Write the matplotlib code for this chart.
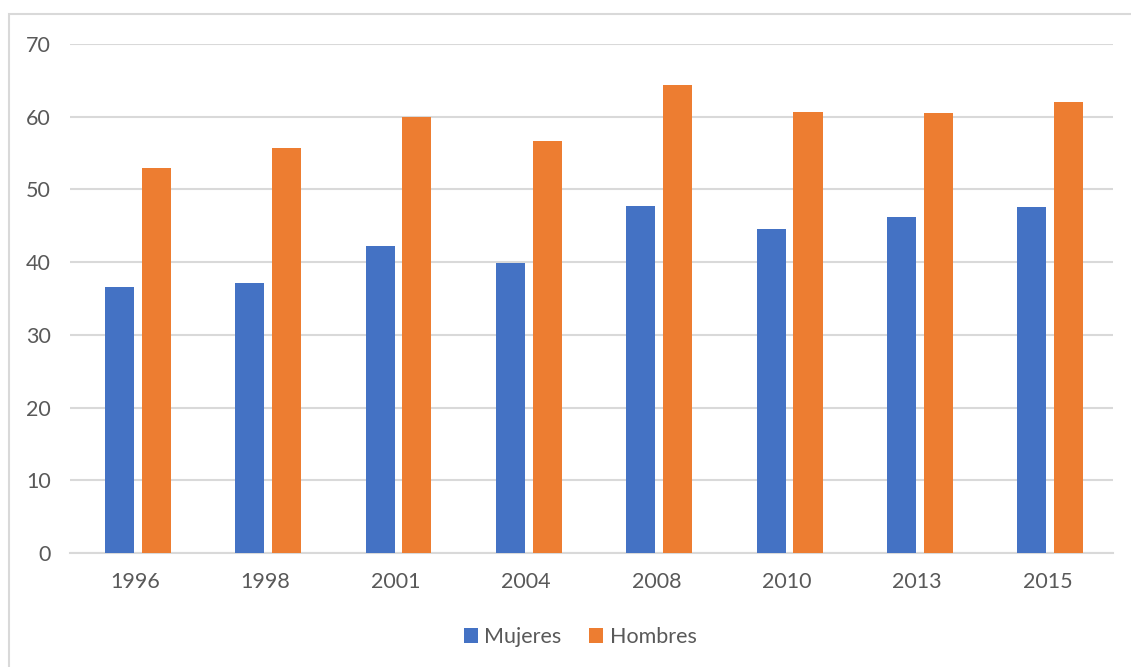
import numpy as np
import matplotlib
matplotlib.use('Agg')
import matplotlib.pyplot as plt
from matplotlib.patches import Rectangle

plt.rcParams['font.family'] = ['Lato', 'DejaVu Sans']

# datos
years = ['1996', '1998', '2001', '2004', '2008', '2010', '2013', '2015']
mujeres = [36.6, 37.1, 42.2, 39.9, 47.7, 44.6, 46.2, 47.6]
hombres = [52.9, 55.7, 59.9, 56.7, 64.4, 60.6, 60.5, 62.0]

fig = plt.figure(figsize=(11.31, 6.67), dpi=100)
ax = fig.add_axes([0.0619, 0.171, 0.922, 0.763])

x = np.arange(len(years))
w = 0.223
gap = 0.06
ax.bar(x - (w + gap) / 2 + 0.02, mujeres, w, color='#4472C4', label='Mujeres', zorder=3)
ax.bar(x + (w + gap) / 2 + 0.02, hombres, w, color='#ED7D31', label='Hombres', zorder=3)

ax.set_xlim(-0.5, len(years) - 0.5)
ax.set_ylim(0, 70)
ax.set_yticks(range(0, 71, 10))
ax.set_xticks(x)
ax.set_xticklabels(years)
ax.tick_params(axis='both', length=0, labelsize=15.5, colors='#595959')
ax.tick_params(axis='y', pad=14)
ax.tick_params(axis='x', pad=14)
ax.grid(axis='y', color='#d9d9d9', linewidth=1.5, zorder=0)
for s in ['top', 'right', 'left']:
    ax.spines[s].set_visible(False)
ax.spines['bottom'].set_color('#d9d9d9')
ax.spines['bottom'].set_linewidth(1.5)

leg = fig.legend(loc='center', bbox_to_anchor=(0.513, 0.045), ncol=2, frameon=False,
                 fontsize=15.5, handlelength=0.65, handleheight=0.65, handletextpad=0.3,
                 columnspacing=1.3)
for t in leg.get_texts():
    t.set_color('#595959')

# marco del gráfico
fig.patches.append(Rectangle((9 / 1131, -0.1), 1.2, 1 - 14 / 667 + 0.1, transform=fig.transFigure,
                             fill=False, edgecolor='#d9d9d9', linewidth=1.5))

plt.savefig('out.png', dpi=100)
